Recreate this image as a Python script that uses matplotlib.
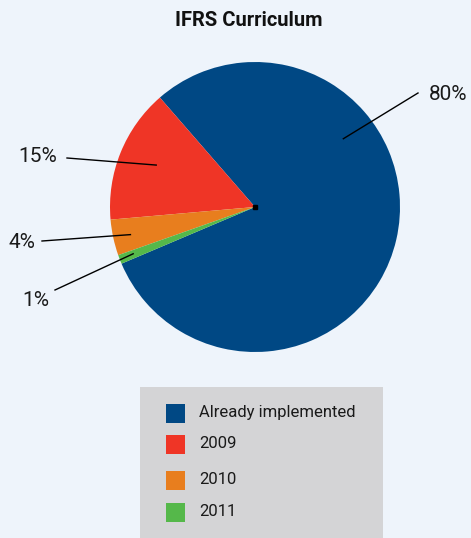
import matplotlib
matplotlib.use("Agg")
import matplotlib.pyplot as plt
import numpy as np
from matplotlib.patches import Rectangle

plt.rcParams["font.family"] = ["Roboto", "DejaVu Sans"]

# data
categories = ["Already implemented", "2009", "2010", "2011"]
shares = [80, 15, 4, 1]
colors = ["#004884", "#EF3526", "#E87E1E", "#55B84A"]

BG = "#EEF4FB"
W, H = 471, 538

fig = plt.figure(figsize=(W / 100, H / 100), dpi=100, facecolor=BG)
ax = fig.add_axes([0, 0, 1, 1])
ax.set_facecolor(BG)

cx, cy, R = 255, H - 207, 145
# blue slice ends where the red one begins (~131 deg)
start = 131 - 360 * shares[0] / 100
wedges, _ = ax.pie(shares, colors=colors, startangle=start, counterclock=True,
                   radius=R, center=(cx, cy), frame=True,
                   wedgeprops=dict(linewidth=0))
ax.set_xlim(0, W)
ax.set_ylim(0, H)
ax.set_aspect("equal")
ax.axis("off")
ax.plot(cx, cy, "s", color="black", ms=3.5)

# label placement: (angle deg, radius frac) inside the wedge, text position
anchors = [(37.7, 0.77), (157, 0.74), (192.5, 0.88), (201, 0.9)]
text_pos = [(448, H - 95), (38, H - 157), (22, H - 243), (36, H - 301)]
line_end = [(418, H - 93), (67, H - 158), (42, H - 241), (55, H - 290)]
for v, (a, r), tp, le in zip(shares, anchors, text_pos, line_end):
    px = cx + r * R * np.cos(np.radians(a))
    py = cy + r * R * np.sin(np.radians(a))
    ax.plot([px, le[0]], [py, le[1]], color="black", lw=1)
    ax.text(tp[0], tp[1], f"{v}%", fontsize=15, ha="center", va="center",
            color="#1a1a1a")

ax.text(W / 2 + 13, H - 20, "IFRS Curriculum", fontsize=14.5,
        fontweight="bold", ha="center", va="center", color="#111111")

# legend panel
ax.add_patch(Rectangle((140, 0), 243, H - 387, facecolor="#D4D4D6",
                       edgecolor="none"))
rows_y = [413, 444, 480, 512]
for lab, col, y in zip(categories, colors, rows_y):
    ax.add_patch(Rectangle((166, H - y - 9.5), 19, 19, facecolor=col,
                           edgecolor="none"))
    ax.text(199, H - y, lab, fontsize=12, ha="left", va="center",
            color="#1a1a1a")

fig.savefig("out.png", dpi=100, facecolor=BG)
